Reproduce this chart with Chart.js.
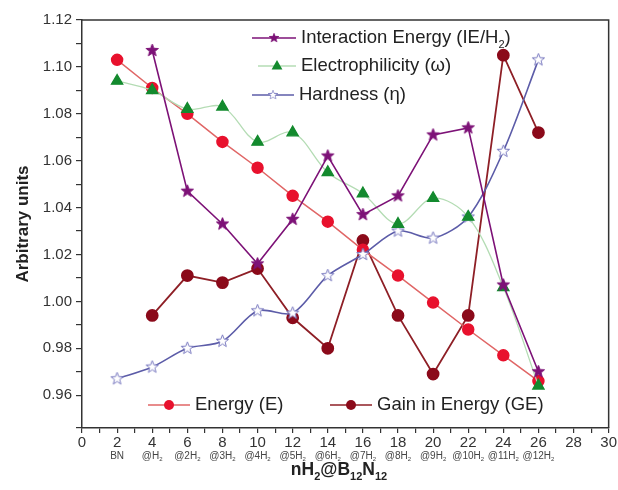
<!DOCTYPE html>
<html>
<head>
<meta charset="utf-8">
<script src="https://cdn.jsdelivr.net/npm/chart.js@4/dist/chart.umd.min.js"></script>
<style>
  html, body { margin: 0; padding: 0; background: #fff; }
  #wrap { width: 618px; height: 490px; }
</style>
</head>
<body>
<div id="wrap"><canvas id="chart" width="618" height="490"></canvas></div>
<script>
// data
var xValues = [2, 4, 6, 8, 10, 12, 14, 16, 18, 20, 22, 24, 26];
var xSubLabels = ['BN', '@H2', '@2H2', '@3H2', '@4H2', '@5H2', '@6H2', '@7H2', '@8H2', '@9H2', '@10H2', '@11H2', '@12H2'];
var interactionEnergy = [null, 1.107, 1.047, 1.033, 1.016, 1.035, 1.062, 1.037, 1.045, 1.071, 1.074, 1.007, 0.970];
var electrophilicity = [1.094, 1.090, 1.082, 1.083, 1.068, 1.072, 1.055, 1.046, 1.033, 1.044, 1.036, 1.006, 0.964];
var hardness = [0.967, 0.972, 0.980, 0.983, 0.996, 0.995, 1.011, 1.020, 1.030, 1.027, 1.036, 1.064, 1.103];
var energy = [1.103, 1.091, 1.080, 1.068, 1.057, 1.045, 1.034, 1.022, 1.011, 0.9995, 0.988, 0.977, 0.966];
var gainEnergy = [null, 0.994, 1.011, 1.008, 1.014, 0.993, 0.980, 1.026, 0.994, 0.969, 0.994, 1.105, 1.072];

var FONT = '"Liberation Sans", Arial, sans-serif';

function toPoints(arr) {
    var pts = [];
    xValues.forEach(function (x, i) {
        if (arr[i] !== null) pts.push({ x: x, y: arr[i] });
    });
    return pts;
}

// five point star as a point image
function makeStar(r, fill, stroke) {
    var c = document.createElement('canvas');
    var s = Math.ceil(2 * r + 4);
    c.width = s; c.height = s;
    var g = c.getContext('2d');
    g.beginPath();
    for (var k = 0; k < 10; k++) {
        var rad = k % 2 === 0 ? r : r * 0.42;
        var a = -Math.PI / 2 + k * Math.PI / 5;
        var px = s / 2 + rad * Math.cos(a), py = s / 2 + rad * Math.sin(a);
        if (k === 0) g.moveTo(px, py); else g.lineTo(px, py);
    }
    g.closePath();
    g.fillStyle = fill;
    g.fill();
    g.lineWidth = 1;
    g.strokeStyle = stroke;
    g.stroke();
    return c;
}

var purpleStar = makeStar(6.5, '#7d1277', '#7d1277');
var openStar = makeStar(6.5, '#ffffff', '#7a7ac0');

// text with subscript runs: parts = [[text, isSub], ...]
function drawRich(ctx, parts, x, y, size, weight, align) {
    var subSize = Math.round(size * 0.62);
    var total = 0;
    parts.forEach(function (p) {
        ctx.font = weight + ' ' + (p[1] ? subSize : size) + 'px ' + FONT;
        total += ctx.measureText(p[0]).width;
    });
    var cx = align === 'center' ? x - total / 2 : x;
    ctx.textAlign = 'left';
    ctx.textBaseline = 'middle';
    parts.forEach(function (p) {
        ctx.font = weight + ' ' + (p[1] ? subSize : size) + 'px ' + FONT;
        ctx.fillText(p[0], cx, p[1] ? y + size * 0.38 : y);
        cx += ctx.measureText(p[0]).width;
    });
}

function splitSub(label) {
    // turn '@3H2' into runs, trailing 2 is a subscript
    if (label.slice(-2) === 'H2') return [[label.slice(0, -1), false], ['2', true]];
    return [[label, false]];
}

var legendItems = [
    { ds: 0, x: 252, y: 38, w: 44, text: [['Interaction Energy (IE/H', false], ['2', true], [')', false]] },
    { ds: 1, x: 258, y: 66, w: 38, text: [['Electrophilicity (\u03c9)', false]] },
    { ds: 2, x: 252, y: 95, w: 42, text: [['Hardness (\u03b7)', false]] },
    { ds: 3, x: 148, y: 405, w: 42, text: [['Energy (E)', false]] },
    { ds: 4, x: 330, y: 405, w: 42, text: [['Gain in Energy (GE)', false]] }
];

var overlay = {
    id: 'overlay',
    afterDraw: function (chart) {
        var ctx = chart.ctx;
        var area = chart.chartArea;
        var xs = chart.scales.x;
        ctx.save();

        // frame top and right
        ctx.strokeStyle = '#333';
        ctx.lineWidth = 1.5;
        ctx.beginPath();
        ctx.moveTo(area.left, area.top);
        ctx.lineTo(area.right, area.top);
        ctx.lineTo(area.right, area.bottom);
        ctx.stroke();

        // second row of x labels
        ctx.fillStyle = '#444';
        xValues.forEach(function (x, i) {
            drawRich(ctx, splitSub(xSubLabels[i]), xs.getPixelForValue(x), 456, 10, 'normal', 'center');
        });

        // axis titles
        ctx.fillStyle = '#222';
        drawRich(ctx, [['nH', false], ['2', true], ['@B', false], ['12', true], ['N', false], ['12', true]],
            339, 470, 17.5, 'bold', 'center');
        ctx.save();
        ctx.translate(23, (area.top + area.bottom) / 2);
        ctx.rotate(-Math.PI / 2);
        ctx.font = 'bold 17px ' + FONT;
        ctx.textAlign = 'center';
        ctx.textBaseline = 'middle';
        ctx.fillText('Arbitrary units', 0, 0);
        ctx.restore();

        // legends inside the plot
        legendItems.forEach(function (it) {
            var ds = chart.data.datasets[it.ds];
            ctx.strokeStyle = ds.borderColor;
            ctx.lineWidth = 1.5;
            ctx.beginPath();
            ctx.moveTo(it.x, it.y);
            ctx.lineTo(it.x + it.w, it.y);
            ctx.stroke();
            var mx = it.x + it.w / 2;
            if (ds.pointStyle instanceof HTMLCanvasElement) {
                var img = ds.pointStyle;
                var sc = 0.75;
                ctx.drawImage(img, mx - img.width * sc / 2, it.y - img.height * sc / 2, img.width * sc, img.height * sc);
            } else {
                ctx.fillStyle = ds.pointBackgroundColor;
                ctx.beginPath();
                var r = ds.pointRadius - 0.5;
                if (ds.pointStyle === 'circle') {
                    ctx.arc(mx, it.y, r, 0, Math.PI * 2);
                } else {
                    ctx.moveTo(mx, it.y - r);
                    ctx.lineTo(mx + r * 0.9, it.y + r * 0.6);
                    ctx.lineTo(mx - r * 0.9, it.y + r * 0.6);
                    ctx.closePath();
                }
                ctx.fill();
            }
            ctx.fillStyle = '#222';
            drawRich(ctx, it.text, it.x + it.w + 5, it.y, 18.5, 'normal', 'left');
        });
        ctx.restore();
    }
};

function isMajor(v, step) {
    var n = v / step;
    return Math.abs(n - Math.round(n)) < 1e-6;
}

new Chart(document.getElementById('chart'), {
    type: 'line',
    data: {
        datasets: [
            {
                label: 'Interaction Energy (IE/H2)',
                data: toPoints(interactionEnergy),
                borderColor: '#7d1277',
                borderWidth: 1.6,
                pointStyle: purpleStar,
                pointRadius: 6,
                tension: 0
            },
            {
                label: 'Electrophilicity (\u03c9)',
                data: toPoints(electrophilicity),
                borderColor: '#b4dcb4',
                borderWidth: 1.3,
                pointStyle: 'triangle',
                pointRadius: 6.5,
                pointBackgroundColor: '#138a2e',
                pointBorderColor: '#138a2e',
                tension: 0.35
            },
            {
                label: 'Hardness (\u03b7)',
                data: toPoints(hardness),
                borderColor: '#5c5ca8',
                borderWidth: 1.6,
                pointStyle: openStar,
                pointRadius: 6,
                tension: 0.3
            },
            {
                label: 'Energy (E)',
                data: toPoints(energy),
                borderColor: '#e06666',
                borderWidth: 1.5,
                pointStyle: 'circle',
                pointRadius: 5.5,
                pointBackgroundColor: '#e8112d',
                pointBorderColor: '#e8112d',
                tension: 0
            },
            {
                label: 'Gain in Energy (GE)',
                data: toPoints(gainEnergy),
                borderColor: '#8e1f26',
                borderWidth: 1.8,
                pointStyle: 'circle',
                pointRadius: 5.5,
                pointBackgroundColor: '#8b0a1a',
                pointBorderColor: '#8b0a1a',
                tension: 0
            }
        ]
    },
    options: {
        responsive: false,
        animation: false,
        layout: { padding: { top: 20, right: 8, left: 0, bottom: 0 } },
        plugins: { legend: { display: false }, tooltip: { enabled: false } },
        scales: {
            x: {
                type: 'linear',
                min: 0,
                max: 30,
                afterFit: function (scale) { scale.height = 62; },
                ticks: {
                    stepSize: 1,
                    autoSkip: false,
                    maxRotation: 0,
                    padding: 1,
                    color: '#333',
                    font: { family: FONT, size: 15 },
                    callback: function (v) { return isMajor(v, 2) ? String(Math.round(v)) : ''; }
                },
                grid: {
                    drawOnChartArea: false,
                    tickLength: 5,
                    color: '#333',
                    lineWidth: 1.2
                },
                border: { color: '#333', width: 1.5 }
            },
            y: {
                min: 0.946,
                max: 1.12,
                afterFit: function (scale) { scale.width = 82; },
                ticks: {
                    stepSize: 0.01,
                    autoSkip: false,
                    padding: 4,
                    color: '#333',
                    font: { family: FONT, size: 15 },
                    callback: function (v) { return isMajor(v, 0.02) ? v.toFixed(2) : ''; }
                },
                grid: {
                    drawOnChartArea: false,
                    tickLength: 6,
                    color: '#333',
                    lineWidth: 1.2
                },
                border: { color: '#333', width: 1.5 }
            }
        }
    },
    plugins: [overlay]
});
</script>
</body>
</html>
